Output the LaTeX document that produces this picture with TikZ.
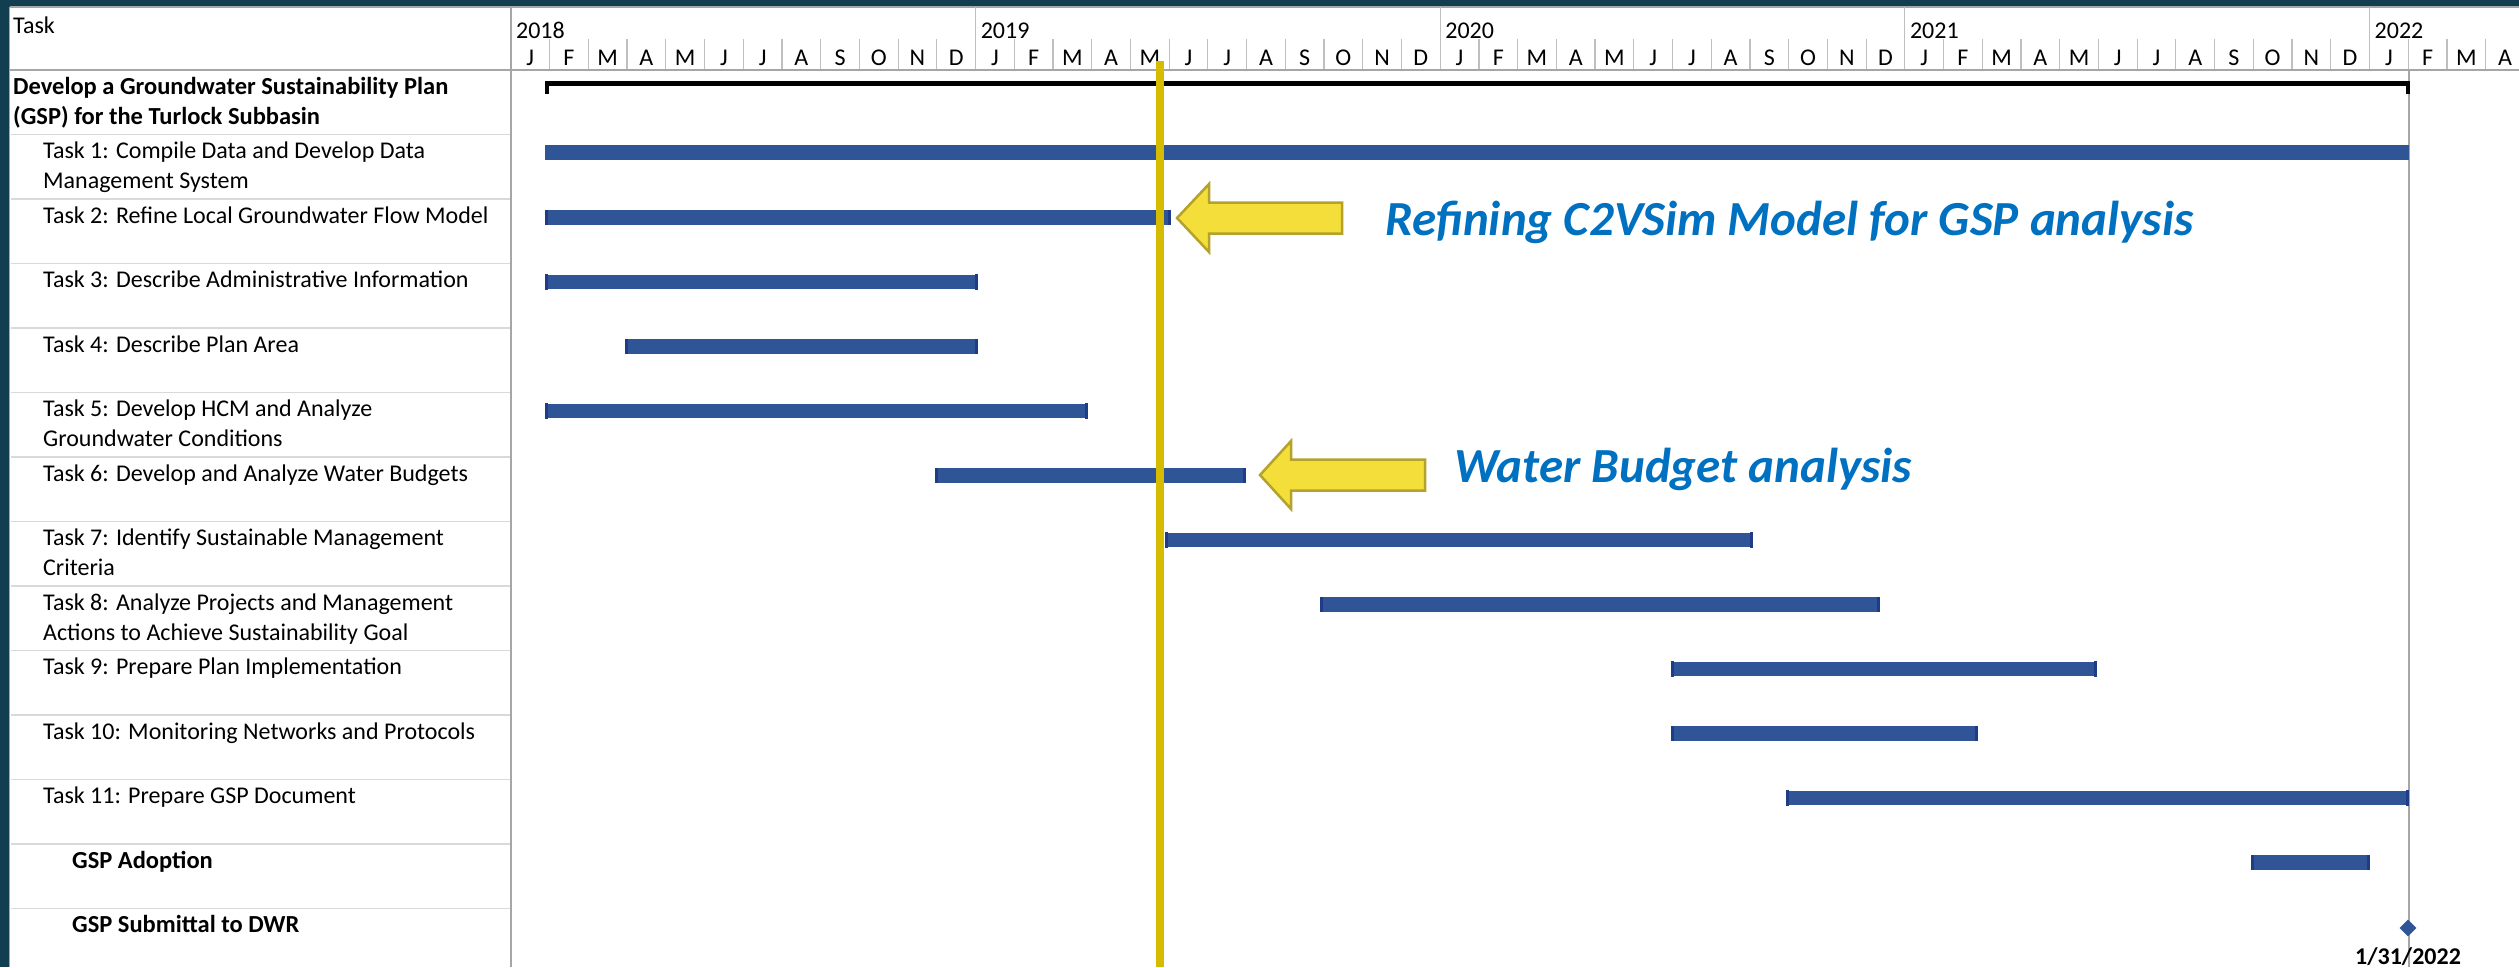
\documentclass[tikz,border=0pt]{standalone}
\usepackage{fontspec}
\setmainfont{Carlito}
\usetikzlibrary{shapes.geometric}
\definecolor{frame}{HTML}{123E52}
\definecolor{barblue}{HTML}{2F5597}
\definecolor{capblue}{HTML}{1F3C88}
\definecolor{ylwline}{HTML}{D6BC00}
\definecolor{arrfill}{HTML}{F3DE3A}
\definecolor{arrdraw}{HTML}{B4A22C}
\definecolor{calltext}{HTML}{0070C0}
\definecolor{gridgray}{HTML}{BFBFBF}
\definecolor{rowgray}{HTML}{D9D9D9}
\definecolor{divgray}{HTML}{A6A6A6}
\newcommand{\mybar}[3]{%
  \pgfmathsetmacro{\rt}{70+64.5*#1}%
  \fill[barblue] (#2,\rt+11) rectangle (#3,\rt+25.5);
  \fill[capblue] (#2,\rt+10.5) rectangle (#2+3,\rt+26);
  \fill[capblue] (#3-3,\rt+10.5) rectangle (#3,\rt+26);
}
\begin{document}
\begin{tikzpicture}[x=1pt,y=-1pt,
  lbl/.style={anchor=base west, inner sep=0pt, font=\fontsize{24}{30}\selectfont},
  blbl/.style={lbl, font=\fontsize{24.5}{30}\selectfont\bfseries},
  mon/.style={anchor=base, inner sep=0pt, font=\fontsize{24}{30}\selectfont},
  callout/.style={anchor=base west, inner sep=0pt, text=calltext, font=\fontsize{49}{58}\selectfont\bfseries\itshape},
  blockarrow/.style={fill=arrfill, draw=arrdraw, line width=2.5pt, line join=miter}]
\useasboundingbox (0,0) rectangle (2519,967);
\clip (0,0) rectangle (2519,967);
\fill[white] (0,0) rectangle (2519,967);
% frame
\fill[frame] (0,0) rectangle (2519,6.5);
\fill[frame] (0,0) rectangle (9,967);
\draw[divgray, line width=1.2pt] (9.5,7) -- (2519,7);
\draw[divgray, line width=1.2pt] (9.8,7) -- (9.8,967);
% header grid
\foreach \m in {1,...,51}{
  \pgfmathsetmacro{\xx}{510.9+\m*38.72}
  \pgfmathtruncatemacro{\r}{mod(\m,12)}
  \ifnum\r=0
    \draw[gridgray, line width=1.2pt] (\xx,7) -- (\xx,70);
  \else
    \draw[gridgray, line width=1.2pt] (\xx,39) -- (\xx,70);
  \fi
}
% year labels
\foreach \y [count=\k from 0] in {2018,2019,2020,2021,2022}{
  \pgfmathsetmacro{\xx}{510.9+\k*12*38.72+5}
  \node[lbl] (yr\y) at (\xx,38) {\y};
}
% month labels
\foreach \ml [count=\m from 0] in {J,F,M,A,M,J,J,A,S,O,N,D,J,F,M,A,M,J,J,A,S,O,N,D,J,F,M,A,M,J,J,A,S,O,N,D,J,F,M,A,M,J,J,A,S,O,N,D,J,F,M,A}{
  \pgfmathsetmacro{\xx}{510.9+(\m+0.5)*38.72}
  \node[mon] (mo\m) at (\xx,65) {\ml};
}
\node[lbl] (taskhdr) at (13,33) {Task};
% header bottom and divider
\draw[divgray, line width=1.2pt] (9.5,70) -- (2519,70);
\draw[divgray, line width=1.5pt] (510.9,7) -- (510.9,967);
% row lines
\foreach \i in {1,...,13}{
  \draw[rowgray, line width=1.2pt] (10.5,70+64.5*\i) -- (510,70+64.5*\i);
}
% task labels
\node[blbl] (r0a) at (13,94) {Develop a Groundwater Sustainability Plan};
\node[blbl] (r0b) at (13,124) {(GSP) for the Turlock Subbasin};
\node[lbl] (r1a) at (43,158.5) {Task 1: Compile Data and Develop Data};
\node[lbl] (r1b) at (43,188.5) {Management System};
\node[lbl] (r2) at (43,223) {Task 2: Refine Local Groundwater Flow Model};
\node[lbl] (r3) at (43,287.5) {Task 3: Describe Administrative Information};
\node[lbl] (r4) at (43,352) {Task 4: Describe Plan Area};
\node[lbl] (r5a) at (43,416.5) {Task 5: Develop HCM and Analyze};
\node[lbl] (r5b) at (43,446.5) {Groundwater Conditions};
\node[lbl] (r6) at (43,481) {Task 6: Develop and Analyze Water Budgets};
\node[lbl] (r7a) at (43,545.5) {Task 7: Identify Sustainable Management};
\node[lbl] (r7b) at (43,575.5) {Criteria};
\node[lbl] (r8a) at (43,610) {Task 8: Analyze Projects and Management};
\node[lbl] (r8b) at (43,640) {Actions to Achieve Sustainability Goal};
\node[lbl] (r9) at (43,674.5) {Task 9: Prepare Plan Implementation};
\node[lbl] (r10) at (43,739) {Task 10: Monitoring Networks and Protocols};
\node[lbl] (r11) at (43,803.5) {Task 11: Prepare GSP Document};
\node[blbl] (r12) at (72,868) {GSP Adoption};
\node[blbl] (r13) at (72,932.5) {GSP Submittal to DWR};
% milestone date line
\draw[divgray, line width=1.2pt] (2409,70) -- (2409,967);
% summary bar
\fill[black] (545,80.5) rectangle (2409.5,85.5);
\fill[black] (545,80.5) rectangle (548.5,94);
\fill[black] (2406,80.5) rectangle (2409.5,94);
% bars
\fill[barblue] (545,145) rectangle (2409,159.5);
\mybar{2}{545}{1171}
\mybar{3}{545}{978}
\mybar{4}{625}{978}
\mybar{5}{545}{1088}
\mybar{6}{935}{1246}
\mybar{7}{1165}{1753}
\mybar{8}{1320}{1880}
\mybar{9}{1671}{2097}
\mybar{10}{1671}{1978}
\mybar{11}{1786}{2409}
\mybar{12}{2251}{2370}
% milestone
\node[diamond, fill=barblue, inner sep=0pt, minimum size=17pt] (ms) at (2408,928) {};
\node[anchor=base, inner sep=0pt, font=\fontsize{24}{30}\selectfont\bfseries] (msdate) at (2408,964) {1/31/2022};
% yellow status line
\fill[ylwline] (1156,61) rectangle (1164,967);
% block arrows
\draw[blockarrow] (1177,218) -- (1209,184) -- (1209,202.5) -- (1342,202.5) -- (1342,233.5) -- (1209,233.5) -- (1209,252) -- cycle;
\draw[blockarrow] (1260,475) -- (1291,441) -- (1291,459.5) -- (1425,459.5) -- (1425,490.5) -- (1291,490.5) -- (1291,509) -- cycle;
% callout texts
\node[callout] (c1) at (1385,235) {Refining C2VSim Model for GSP analysis};
\node[callout] (c2) at (1454,482) {Water Budget analysis};
\end{tikzpicture}
\end{document}
